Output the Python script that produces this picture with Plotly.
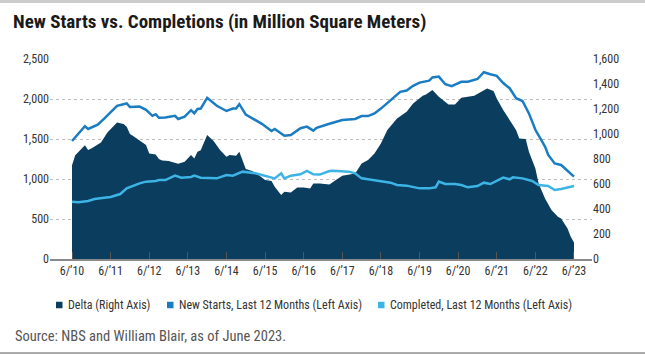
import plotly.graph_objects as go

# Month offsets since June 2010 (0 = 6/2010, 156 = 6/2023)
tick_months = [0, 12, 24, 36, 48, 60, 72, 84, 96, 108, 120, 132, 144, 156]
tick_labels = ["6/’10", "6/’11", "6/’12", "6/’13", "6/’14", "6/’15", "6/’16",
               "6/’17", "6/’18", "6/’19", "6/’20", "6/’21", "6/’22", "6/’23"]

starts_m = [0, 4, 5, 8, 10, 14, 16, 17, 18, 21, 23, 25, 26, 27, 29, 32, 33, 35, 37, 38, 39, 40,
            42, 45, 48, 50, 51, 52, 54, 56, 59, 62, 63, 66, 68, 71, 73, 75, 76, 80, 84, 88, 90,
            92, 94, 96, 99, 102, 104, 106, 108, 111, 112, 114, 116, 118, 121, 123, 126, 128,
            130, 132, 134, 136, 138, 140, 142, 144, 147, 148, 150, 152, 156]
starts_v = [1475, 1660, 1625, 1680, 1755, 1915, 1935, 1945, 1900, 1905, 1865, 1790, 1810, 1765,
            1770, 1790, 1750, 1780, 1860, 1820, 1875, 1880, 2015, 1915, 1850, 1880, 1880, 1935,
            1805, 1760, 1690, 1600, 1625, 1540, 1550, 1635, 1655, 1605, 1640, 1690, 1737, 1750,
            1787, 1787, 1820, 1880, 1985, 2090, 2105, 2165, 2205, 2230, 2270, 2280, 2185, 2160,
            2215, 2215, 2250, 2335, 2310, 2290, 2200, 2135, 2010, 1975, 1820, 1615, 1405, 1300,
            1195, 1175, 1030]

delta_m = [0, 1, 4, 5, 6, 9, 11, 14, 16, 17, 18, 19, 23, 24, 26, 27, 28, 30, 33, 35, 37, 38,
           39, 40, 42, 44, 46, 48, 49, 51, 52, 54, 56, 58, 60, 62, 63, 65, 66, 68, 70, 72, 74,
           75, 77, 80, 82, 84, 88, 90, 92, 94, 96, 98, 101, 104, 106, 109, 110, 112, 114, 117,
           119, 121, 125, 127, 129, 131, 132, 134, 136, 138, 139, 141, 142, 144, 145, 147, 149,
           151, 152, 154, 155, 156]
delta_v = [750, 830, 910, 872, 885, 933, 1013, 1093, 1080, 1059, 1000, 984, 912, 845, 837, 800,
           789, 784, 763, 779, 832, 805, 859, 870, 992, 944, 872, 819, 832, 827, 859, 720, 704,
           672, 632, 624, 579, 512, 539, 533, 573, 573, 565, 605, 605, 597, 632, 667, 685, 765,
           792, 845, 925, 1032, 1125, 1179, 1245, 1307, 1317, 1352, 1299, 1237, 1237, 1291,
           1307, 1339, 1365, 1344, 1285, 1192, 1112, 1032, 965, 960, 859, 725, 605, 485, 392,
           339, 325, 245, 179, 133]

completed_m = [0, 2, 5, 7, 10, 12, 15, 17, 21, 23, 26, 27, 29, 32, 34, 37, 38, 40, 45, 48, 50,
               53, 57, 59, 62, 63, 65, 66, 68, 71, 73, 75, 77, 80, 81, 84, 86, 88, 90, 92, 95,
               99, 101, 104, 108, 111, 113, 114, 116, 119, 121, 123, 126, 128, 130, 134, 136,
               137, 140, 143, 145, 148, 150, 152, 156]
completed_v = [717, 708, 725, 750, 767, 775, 812, 883, 946, 967, 975, 987, 987, 1042, 1017, 1025,
               1042, 1017, 1008, 1050, 1042, 1092, 1071, 1050, 1017, 1008, 1071, 1008, 1042, 1058,
               1100, 1058, 1055, 1100, 1104, 1092, 1092, 1071, 1008, 996, 979, 954, 925, 917, 883,
               883, 896, 967, 937, 937, 925, 896, 912, 954, 937, 1017, 996, 1021, 1008, 975, 925,
               912, 862, 875, 912]

series_names = ["Delta (Right Axis)", "New Starts, Last 12 Months (Left Axis)",
                "Completed, Last 12 Months (Left Axis)"]
C_DELTA = "#0b3d5f"
C_STARTS = "#1a7dc3"
C_COMP = "#3cb4e5"
series_colors = [C_DELTA, C_STARTS, C_COMP]

FONT = "Liberation Sans Narrow, Roboto Condensed, Roboto, Arial, sans-serif"

fig = go.Figure()
# area on primary y (right side, 0-1600) so the left-axis lines overlay it
fig.add_trace(go.Scatter(x=delta_m, y=delta_v, mode="lines", fill="tozeroy", name=series_names[0],
                         line=dict(width=0, color=C_DELTA), fillcolor=C_DELTA,
                         yaxis="y", showlegend=False))
fig.add_trace(go.Scatter(x=completed_m, y=completed_v, mode="lines", name=series_names[2],
                         line=dict(width=2.5, color=C_COMP), yaxis="y2", showlegend=False))
fig.add_trace(go.Scatter(x=starts_m, y=starts_v, mode="lines", name=series_names[1],
                         line=dict(width=2.5, color=C_STARTS), yaxis="y2", showlegend=False))

L, R, T, B = 50, 53, 59, 96
W, H = 645, 355
pw, ph = W - L - R, H - T - B

def px_x(p):
    return (p - L) / pw

def px_y(p):
    return (H - B - p) / ph

fig.update_layout(
    width=W, height=H,
    margin=dict(l=L, r=R, t=T, b=B, pad=0, autoexpand=False),
    paper_bgcolor="white", plot_bgcolor="white",
    font=dict(family=FONT, size=12, color="#333333"),
    xaxis=dict(range=[-6.84, 161.6], tickvals=tick_months, ticktext=tick_labels,
               showgrid=False, zeroline=False, showline=True, linecolor="#8a8a8a",
               linewidth=1.5, ticks="inside", ticklen=7, tickcolor="#555555",
               tickfont=dict(size=12, color="#333333")),
    yaxis=dict(range=[0, 1600], dtick=200, side="right", showgrid=False, zeroline=False,
               tickformat=",", ticks="", tickfont=dict(size=12, color="#333333")),
    yaxis2=dict(range=[0, 2500], dtick=500, side="left", overlaying="y", showgrid=True,
                gridcolor="#bdbdbd", griddash="dot", gridwidth=1, zeroline=False,
                tickformat=",", ticks="", tickfont=dict(size=12, color="#333333")),
    showlegend=False,
)

# legend: colored squares + labels
legend_sq_x = [56, 167, 378]
legend_y = 305
for name, col, sx in zip(series_names, series_colors, legend_sq_x):
    fig.add_shape(type="rect", xref="paper", yref="paper",
                  x0=px_x(sx), x1=px_x(sx + 6.5), y0=px_y(legend_y - 3.25), y1=px_y(legend_y + 3.25),
                  fillcolor=col, line=dict(width=0))
    fig.add_annotation(text=name, xref="paper", yref="paper", x=px_x(sx + 10), y=px_y(legend_y),
                       xanchor="left", yanchor="middle", showarrow=False,
                       font=dict(size=12, color="#333333", family=FONT))

fig.add_annotation(text="<b>New Starts vs. Completions (in Million Square Meters)</b>",
                   xref="paper", yref="paper", x=px_x(11), y=px_y(21),
                   xanchor="left", yanchor="middle", showarrow=False,
                   font=dict(size=19, color="#1a1a1a", family=FONT))
fig.add_annotation(text="Source: NBS and William Blair, as of June 2023.",
                   xref="paper", yref="paper", x=px_x(13), y=px_y(336),
                   xanchor="left", yanchor="middle", showarrow=False,
                   font=dict(size=14.5, color="#555555", family=FONT))

fig.add_shape(type="line", xref="paper", yref="paper", x0=px_x(0), x1=px_x(W),
              y0=px_y(1.5), y1=px_y(1.5), line=dict(color="#cccccc", width=3))
fig.add_shape(type="line", xref="paper", yref="paper", x0=px_x(0), x1=px_x(W),
              y0=px_y(353), y1=px_y(353), line=dict(color="#aaaaaa", width=2))

fig.write_html("out.html", config={"displayModeBar": False},
               post_script="document.body.style.margin='0px';")
